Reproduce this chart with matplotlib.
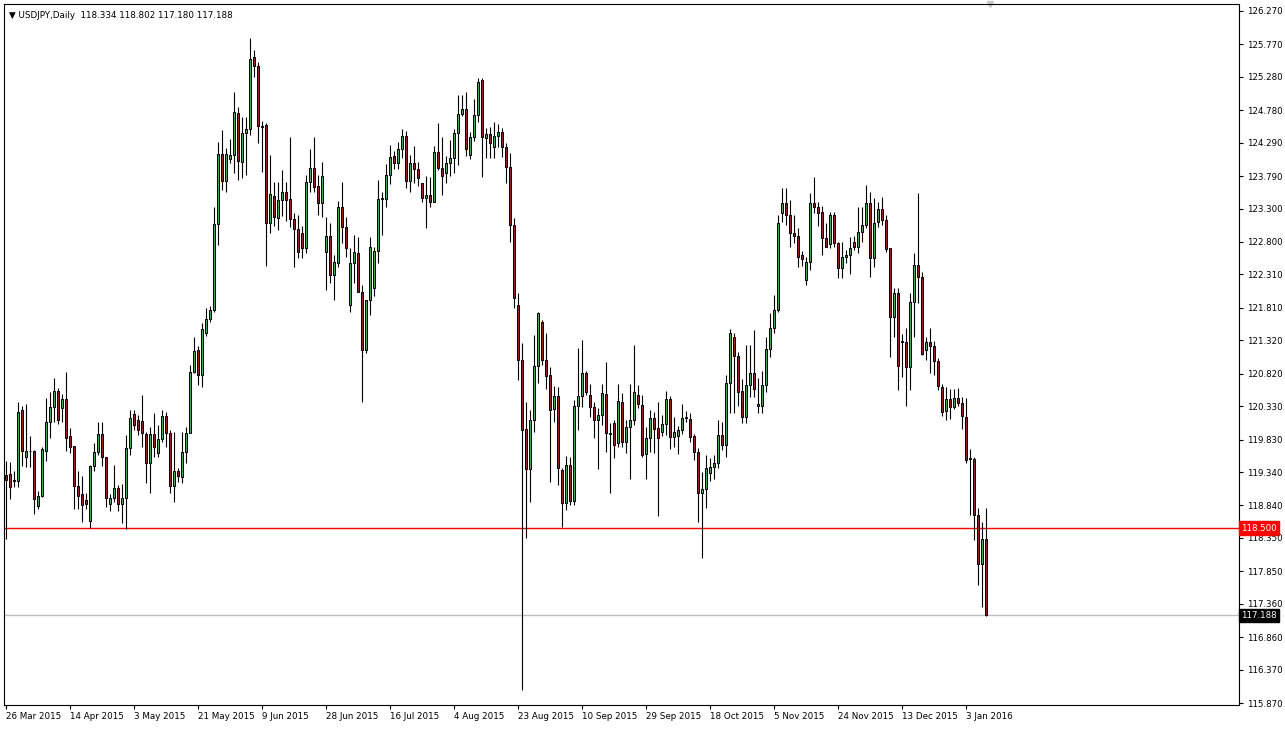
import matplotlib
matplotlib.use("Agg")
import matplotlib.pyplot as plt
import numpy as np

# USDJPY daily bars, one row per bar
opens = [119.30, 119.31, 119.20, 119.20, 120.28, 119.56, 119.65, 119.65, 118.83, 118.98,
         119.65, 120.10, 120.32, 120.56, 120.31, 120.44, 119.88, 119.73, 119.13, 119.01,
         118.92, 118.60, 119.43, 119.64, 119.91, 119.56, 118.86, 118.95, 119.10, 118.86,
         118.95, 119.70, 120.22, 120.13, 120.11, 119.91, 119.48, 119.91, 119.63, 119.84,
         120.18, 119.93, 119.13, 119.35, 119.26, 119.64, 119.93, 120.85, 121.17, 120.80,
         121.43, 121.64, 121.78, 123.07, 124.12, 123.72, 124.04, 124.10, 124.74, 124.00,
         124.44, 124.49, 125.58, 125.44, 124.54, 124.56, 123.08, 123.49, 123.16, 123.43,
         123.55, 123.44, 123.14, 122.99, 122.93, 122.71, 123.70, 123.91, 123.64, 123.38,
         122.65, 122.89, 122.30, 122.48, 123.32, 123.03, 121.85, 122.48, 122.63, 122.05,
         121.18, 121.93, 122.10, 122.66, 123.44, 123.45, 123.80, 124.09, 123.99, 124.20,
         124.39, 123.72, 123.99, 123.90, 123.69, 123.46, 123.51, 123.40, 124.15, 123.91,
         123.84, 123.99, 124.06, 124.44, 124.72, 124.80, 124.11, 124.38, 124.71, 125.23,
         124.36, 124.42, 124.23, 124.39, 124.45, 124.23, 123.93, 123.05, 121.85, 121.02,
         119.99, 119.39, 120.12, 120.93, 121.60, 121.02, 120.80, 120.29, 120.48, 119.37,
         118.88, 119.45, 118.90, 120.33, 120.48, 120.83, 120.50, 120.32, 120.12, 120.20,
         120.51, 119.93, 120.08, 119.77, 120.40, 119.79, 120.02, 120.13, 120.50, 120.35,
         119.61, 119.86, 120.15, 120.00, 119.95, 120.07, 120.44, 119.87, 119.89, 119.97,
         120.16, 120.14, 119.88, 119.64, 119.03, 119.09, 119.33, 119.42, 119.48, 119.90,
         119.75, 120.68, 121.37, 121.09, 120.56, 120.17, 120.65, 120.83, 120.33, 120.33,
         120.65, 121.19, 121.51, 121.78, 123.23, 123.38, 123.20, 122.93, 122.89, 122.60,
         122.23, 122.50, 123.38, 123.33, 123.25, 122.86, 122.77, 123.20, 122.79, 122.41,
         122.57, 122.60, 122.80, 122.73, 122.95, 123.06, 123.38, 122.56, 123.10, 123.30,
         123.13, 122.71, 121.67, 122.03, 121.30, 121.30, 120.92, 121.90, 122.45, 122.27,
         121.18, 121.30, 121.24, 121.01, 120.62, 120.26, 120.44, 120.32, 120.45, 120.38,
         120.17, 119.55, 119.54, 118.70, 117.96, 118.334]
highs = [119.50, 119.49, 119.36, 120.39, 120.33, 120.36, 119.88, 119.67, 119.05, 119.72,
         120.46, 120.54, 120.76, 120.61, 120.52, 120.85, 120.00, 119.73, 119.36, 119.28,
         119.02, 119.45, 119.77, 120.10, 120.09, 119.56, 119.01, 119.44, 119.14, 119.16,
         119.90, 120.28, 120.27, 120.20, 120.50, 119.95, 120.02, 120.23, 120.05, 120.28,
         120.24, 119.98, 119.95, 119.40, 119.95, 120.02, 120.95, 121.37, 121.24, 121.58,
         121.80, 121.84, 123.33, 124.30, 124.48, 124.21, 124.35, 125.05, 124.83, 124.68,
         124.68, 125.87, 125.68, 125.50, 124.62, 124.58, 124.10, 123.70, 123.70, 123.88,
         123.70, 124.38, 123.24, 123.20, 123.04, 123.81, 124.19, 124.38, 123.80, 124.00,
         123.17, 123.08, 122.60, 123.41, 123.70, 123.17, 122.71, 122.90, 122.87, 122.15,
         121.93, 122.87, 122.72, 123.73, 123.55, 123.97, 124.25, 124.17, 124.30, 124.49,
         124.47, 124.11, 124.24, 124.00, 123.69, 123.79, 123.78, 124.24, 124.59, 124.38,
         124.09, 124.33, 124.50, 125.01, 125.00, 125.05, 124.45, 124.94, 125.27, 125.27,
         124.51, 124.53, 124.60, 124.57, 124.51, 124.29, 124.14, 123.16, 122.03, 121.28,
         120.39, 120.27, 121.40, 121.75, 121.63, 121.43, 120.92, 120.63, 120.62, 119.40,
         119.58, 119.56, 120.42, 121.21, 121.33, 120.86, 120.66, 120.40, 120.30, 120.66,
         120.99, 120.08, 120.12, 120.66, 120.53, 120.13, 120.66, 121.25, 120.65, 120.50,
         120.02, 120.28, 120.24, 120.40, 120.20, 120.56, 120.49, 120.17, 120.04, 120.36,
         120.26, 120.23, 119.91, 119.70, 119.34, 119.60, 119.55, 119.60, 120.12, 120.10,
         120.80, 121.49, 121.43, 121.15, 120.74, 121.25, 121.25, 121.48, 120.75, 120.86,
         121.37, 121.73, 122.00, 123.20, 123.61, 123.61, 123.43, 123.20, 123.01, 122.66,
         122.57, 123.53, 123.77, 123.40, 123.34, 123.08, 123.25, 123.25, 122.80, 122.80,
         122.68, 122.87, 122.89, 123.32, 123.33, 123.65, 123.55, 123.46, 123.40, 123.48,
         123.20, 122.71, 122.11, 122.11, 121.42, 121.50, 122.03, 122.63, 123.54, 122.35,
         121.37, 121.50, 121.31, 121.06, 120.66, 120.62, 120.59, 120.59, 120.60, 120.47,
         120.45, 119.68, 119.57, 118.80, 118.59, 118.802]
lows = [118.33, 118.93, 119.12, 119.12, 119.43, 119.41, 119.41, 118.71, 118.78, 118.96,
        119.50, 119.86, 120.09, 120.06, 120.09, 119.65, 119.62, 118.78, 118.78, 118.59,
        118.78, 118.50, 119.35, 119.60, 119.43, 118.81, 118.75, 118.89, 118.75, 118.58,
        118.48, 119.60, 119.98, 119.90, 119.72, 119.18, 119.03, 119.57, 119.57, 119.80,
        119.71, 119.03, 118.89, 119.19, 119.18, 119.48, 119.93, 120.83, 120.65, 120.62,
        121.38, 121.59, 121.75, 122.76, 123.58, 123.55, 123.99, 123.84, 123.73, 123.76,
        123.80, 124.40, 125.28, 124.29, 123.85, 122.44, 122.93, 123.04, 122.98, 123.19,
        123.12, 123.02, 122.42, 122.56, 122.56, 122.64, 123.55, 123.55, 123.20, 123.17,
        122.08, 122.18, 121.93, 122.43, 122.79, 122.58, 121.75, 122.18, 122.04, 120.40,
        121.13, 121.70, 121.98, 122.48, 122.90, 123.33, 123.67, 123.90, 123.90, 124.06,
        123.61, 123.55, 123.68, 123.64, 123.40, 123.01, 123.33, 123.40, 123.88, 123.51,
        123.69, 123.79, 123.84, 123.96, 124.69, 124.09, 124.05, 124.32, 124.60, 123.78,
        124.06, 124.06, 124.06, 124.23, 124.08, 123.69, 122.80, 121.81, 120.73, 116.07,
        118.35, 118.89, 119.94, 120.68, 120.95, 120.59, 119.19, 120.10, 119.15, 118.52,
        118.77, 118.85, 118.85, 119.97, 120.32, 120.50, 120.17, 119.86, 119.38, 120.05,
        119.64, 119.03, 119.55, 119.72, 119.72, 119.63, 119.23, 120.05, 120.30, 119.57,
        119.24, 119.64, 119.63, 118.68, 119.88, 119.90, 119.68, 119.72, 119.61, 119.91,
        120.10, 119.80, 119.52, 118.59, 118.05, 118.80, 119.20, 119.24, 119.40, 119.67,
        119.57, 120.23, 120.23, 120.34, 120.08, 120.08, 120.47, 120.47, 120.23, 120.23,
        120.54, 121.07, 121.43, 121.75, 123.10, 123.05, 122.72, 122.78, 122.42, 122.44,
        122.15, 122.38, 123.24, 123.04, 122.60, 122.72, 122.71, 122.72, 122.26, 122.26,
        122.49, 122.31, 122.68, 122.63, 122.80, 123.01, 122.27, 122.42, 123.03, 123.05,
        122.65, 121.07, 121.37, 120.57, 120.77, 120.33, 120.57, 121.37, 121.88, 121.10,
        121.02, 120.83, 120.80, 120.58, 120.18, 120.12, 120.14, 120.29, 120.33, 119.99,
        119.48, 118.70, 118.32, 117.64, 117.31, 117.180]
closes = [119.22, 119.12, 119.22, 120.25, 119.65, 119.65, 119.66, 118.94, 118.98, 119.68,
          120.10, 120.32, 120.56, 120.13, 120.44, 119.86, 119.71, 119.13, 118.98, 118.85,
          118.86, 119.43, 119.64, 119.91, 119.56, 118.95, 118.95, 119.10, 118.86, 118.95,
          119.70, 120.15, 120.05, 119.98, 119.93, 119.48, 119.91, 119.72, 119.84, 120.19,
          119.93, 119.13, 119.35, 119.28, 119.64, 119.93, 120.85, 121.16, 120.80, 121.49,
          121.64, 121.78, 123.07, 124.12, 123.72, 124.12, 124.11, 124.75, 124.02, 124.44,
          124.49, 125.55, 125.44, 124.54, 124.53, 123.08, 123.52, 123.18, 123.43, 123.55,
          123.43, 123.14, 122.99, 122.65, 122.71, 123.70, 123.91, 123.63, 123.38, 123.79,
          122.89, 122.30, 122.50, 123.32, 123.03, 122.71, 122.48, 122.65, 122.05, 121.18,
          121.93, 122.72, 122.66, 123.44, 123.45, 123.80, 124.07, 123.99, 124.20, 124.39,
          123.72, 123.99, 123.90, 123.76, 123.46, 123.51, 123.40, 124.15, 123.91, 123.79,
          123.99, 124.06, 124.44, 124.72, 124.80, 124.20, 124.38, 124.71, 125.20, 124.38,
          124.42, 124.29, 124.39, 124.45, 124.23, 123.93, 123.05, 121.96, 121.02, 119.97,
          119.39, 120.12, 120.93, 121.73, 121.02, 120.78, 120.27, 120.48, 119.40, 118.88,
          119.45, 118.90, 120.33, 120.48, 120.83, 120.55, 120.32, 120.12, 120.20, 120.53,
          119.93, 119.92, 119.75, 120.41, 119.79, 120.02, 120.13, 120.55, 120.37, 119.60,
          119.86, 120.15, 119.99, 119.85, 120.07, 120.44, 119.87, 119.95, 119.97, 120.16,
          120.17, 119.87, 119.64, 119.03, 119.09, 119.40, 119.42, 119.48, 119.90, 119.75,
          120.68, 121.43, 121.09, 120.54, 120.17, 120.65, 120.83, 120.59, 120.37, 120.65,
          121.19, 121.51, 121.78, 123.08, 123.38, 123.20, 122.93, 122.89, 122.57, 122.54,
          122.50, 123.38, 123.33, 123.24, 122.86, 122.73, 123.20, 122.79, 122.41, 122.57,
          122.60, 122.71, 122.73, 122.95, 123.06, 123.38, 122.56, 123.08, 123.30, 123.13,
          122.69, 121.67, 122.03, 120.94, 121.30, 120.92, 121.90, 122.45, 122.27, 121.11,
          121.30, 121.24, 121.01, 120.64, 120.24, 120.44, 120.32, 120.45, 120.38, 120.18,
          119.52, 119.54, 118.70, 117.96, 118.33, 117.188]

date_labels = ['26 Mar 2015', '14 Apr 2015', '3 May 2015', '21 May 2015', '9 Jun 2015',
               '28 Jun 2015', '16 Jul 2015', '4 Aug 2015', '23 Aug 2015', '10 Sep 2015',
               '29 Sep 2015', '18 Oct 2015', '5 Nov 2015', '24 Nov 2015', '13 Dec 2015',
               '3 Jan 2016']
date_bars = [0, 16, 32, 48, 64, 80, 96, 112, 128, 144, 160, 176, 192, 208, 224, 240]
price_ticks = [126.270, 125.770, 125.280, 124.780, 124.290, 123.790, 123.300, 122.800,
               122.310, 121.810, 121.320, 120.820, 120.330, 119.830, 119.340, 118.840,
               118.350, 117.850, 117.360, 116.860, 116.370, 115.870]
level_price = 118.500
bid_price = 117.188
header = 'USDJPY,Daily  118.334 118.802 117.180 117.188'

BULL = '#43ad4b'
BEAR = '#9a1f1f'

o = np.array(opens)
h = np.array(highs)
l = np.array(lows)
c = np.array(closes)
idx = np.arange(len(o))

fig = plt.figure(figsize=(12.85, 7.29), dpi=100)
ax = fig.add_axes([4 / 1285, 1 - 705 / 729, 1235 / 1285, 701 / 729])

# wicks, then bodies on top
ax.vlines(idx, l, h, color='black', linewidth=0.8, zorder=2)
body_lo = np.minimum(o, c)
body_h = np.maximum(np.abs(c - o), 0.012)
colors = [BULL if cc >= oo else BEAR for oo, cc in zip(o, c)]
ax.bar(idx, body_h, bottom=body_lo, width=0.55, color=colors,
       edgecolor='black', linewidth=0.7, zorder=3)

ax.axhline(level_price, color='#ff0000', linewidth=1.0, zorder=1)
ax.axhline(bid_price, color='#c0c0c0', linewidth=1.0, zorder=1)

ax.set_xlim(-0.5, 308.25)
ax.set_ylim(115.840, 126.375)

ax.yaxis.tick_right()
ax.set_yticks(price_ticks)
ax.set_yticklabels([f'{p:.3f}' for p in price_ticks], fontsize=6.2)
ax.set_xticks(date_bars)
ax.set_xticklabels(date_labels, fontsize=6.3, ha='left')
ax.tick_params(axis='y', length=3, width=0.8, pad=2.5)
ax.tick_params(axis='x', length=3, width=0.8, pad=2)
for sp in ax.spines.values():
    sp.set_color('black')
    sp.set_linewidth(0.8)

ytr = ax.get_yaxis_transform()
ax.text(1.0015, level_price, f'{level_price:.3f}', transform=ytr, fontsize=6.2,
        color='white', va='center', ha='left', zorder=5,
        bbox=dict(boxstyle='square,pad=0.25', facecolor='#ff0000', edgecolor='#ff0000'))
ax.text(1.0015, bid_price, f'{bid_price:.3f}', transform=ytr, fontsize=6.2,
        color='white', va='center', ha='left', zorder=5,
        bbox=dict(boxstyle='square,pad=0.25', facecolor='black', edgecolor='black'))

ax.text(0.004, 0.99, '\u25bc ' + header, transform=ax.transAxes, fontsize=6.3,
        va='top', ha='left', color='black')
ax.plot([246], [1.0], marker='v', color='#c8c8c8', markersize=5,
        transform=ax.get_xaxis_transform(), clip_on=False)

fig.savefig('out.png', dpi=100, facecolor='white')
